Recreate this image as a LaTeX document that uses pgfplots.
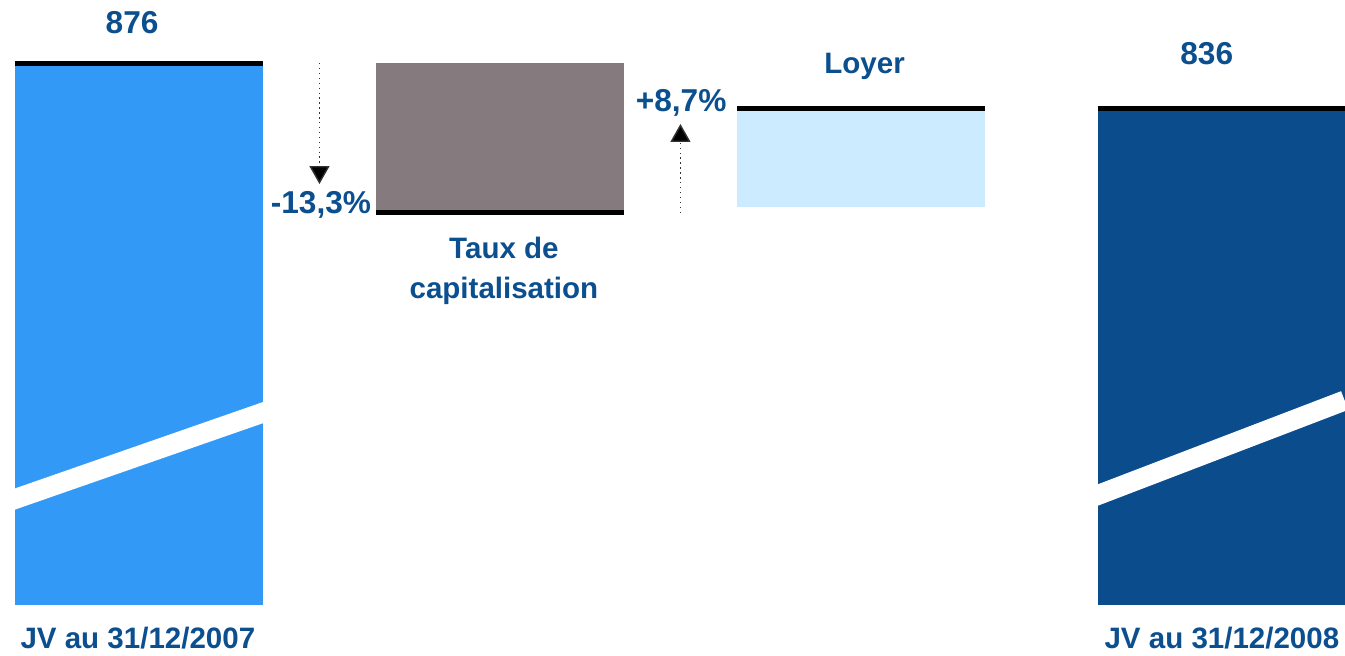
\documentclass[border=0pt]{standalone}
\usepackage{pgfplots}
\pgfplotsset{compat=1.18}
\usepackage{fontspec}
\setmainfont{Liberation Sans}
\usetikzlibrary{arrows.meta}
\definecolor{barA}{RGB}{51,153,247}
\definecolor{barB}{RGB}{133,123,126}
\definecolor{barC}{RGB}{204,235,255}
\definecolor{barD}{RGB}{10,76,140}
\definecolor{txt}{RGB}{11,79,143}
\begin{document}
\begin{tikzpicture}
\begin{axis}[
  scale only axis, width=134.5mm, height=65.5mm,
  xmin=-0.385, xmax=3.341, ymin=349.8, ymax=932,
  enlargelimits=false,
  axis line style={draw=none}, ticks=none,
  ybar stacked, bar width=24.8mm,
]
% invisible base of the floating bars
\addplot[draw=none, fill=none] coordinates {(0,394.2) (1,742.7) (2,748) (3,394.2)};
\addplot[draw=none, fill=barA] coordinates {(0,481.8) (1,0) (2,0) (3,0)};
\addplot[draw=none, fill=barB] coordinates {(0,0) (1,133.3) (2,0) (3,0)};
\addplot[draw=none, fill=barC] coordinates {(0,0) (1,0) (2,88) (3,0)};
\addplot[draw=none, fill=barD] coordinates {(0,0) (1,0) (2,0) (3,441.8)};
\end{axis}
\begin{axis}[
  scale only axis, width=134.5mm, height=65.5mm,
  xmin=-0.385, xmax=3.341, ymin=349.8, ymax=932,
  enlargelimits=false, clip=false,
  axis line style={draw=none}, ticks=none,
]
% break stripes
\addplot[white, line width=2mm] coordinates {(-0.36,486.6) (0.36,567.1)};
\addplot[white, line width=2mm] coordinates {(2.64,490.0) (3.34,576.0)};
% black value lines
\addplot[black, line width=0.5mm] coordinates {(-0.344,876) (0.344,876)};
\addplot[black, line width=0.5mm] coordinates {(0.656,742.7) (1.344,742.7)};
\addplot[black, line width=0.5mm] coordinates {(1.656,836) (2.344,836)};
\addplot[black, line width=0.5mm] coordinates {(2.656,836) (3.341,836)};
% arrows
\addplot[black!80, densely dotted, -{Triangle[width=2mm,length=1.8mm,fill=black]}] coordinates {(0.5,876) (0.5,768.4)};
\addplot[black!80, densely dotted, -{Triangle[width=2mm,length=1.8mm,fill=black]}] coordinates {(1.5,742.7) (1.5,821.8)};
% labels
\begin{scope}[every node/.style={text=txt, font=\bfseries\fontsize{9}{10}\selectfont}]
\node at (axis cs:-0.019,912) {876};
\node at (axis cs:2.958,884) {836};
\node at (axis cs:0.504,749.8) {-13,3\%};
\node at (axis cs:1.502,840.5) {+8,7\%};
\end{scope}
\begin{scope}[every node/.style={text=txt, font=\bfseries\fontsize{8.4}{10}\selectfont}]
\node at (axis cs:2.01,872.8) {Loyer};
\node at (axis cs:1.011,711.6) {Taux de};
\node at (axis cs:1.011,673.3) {capitalisation};
\node at (axis cs:-0.003,365) {JV au 31/12/2007};
\node at (axis cs:3.0,365) {JV au 31/12/2008};
\end{scope}
\end{axis}
\pgfresetboundingbox
\path[use as bounding box] (current axis.south west) rectangle (current axis.north east);
\end{tikzpicture}
\end{document}
